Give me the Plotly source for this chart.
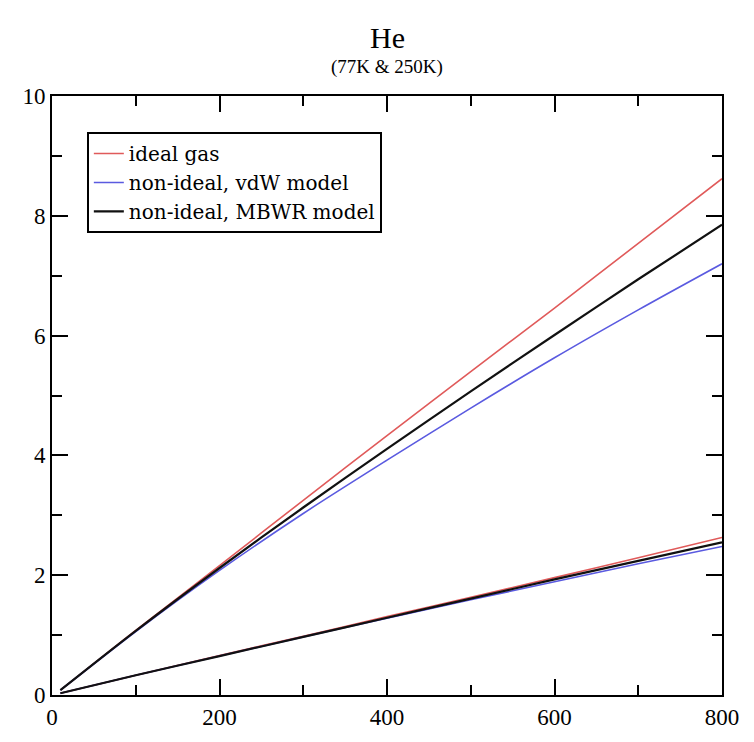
import plotly.graph_objects as go

# pressure-like x values
x_vals = [10, 100, 200, 300, 400, 500, 600, 700, 800]

# upper group (77K)
ideal_77 = [0.08, 1.08, 2.16, 3.25, 4.33, 5.40, 6.46, 7.54, 8.62]
vdw_77 = [0.08, 1.06, 2.08, 3.03, 3.92, 4.79, 5.63, 6.43, 7.20]
mbwr_77 = [0.08, 1.07, 2.12, 3.13, 4.11, 5.07, 6.01, 6.94, 7.85]

# lower group (250K)
ideal_250 = [0.03, 0.33, 0.66, 0.98, 1.31, 1.63, 1.96, 2.29, 2.63]
vdw_250 = [0.03, 0.33, 0.65, 0.97, 1.28, 1.59, 1.89, 2.19, 2.48]
mbwr_250 = [0.03, 0.33, 0.65, 0.97, 1.29, 1.61, 1.93, 2.24, 2.55]

names = ["ideal gas", "non-ideal, vdW model", "non-ideal, MBWR model"]
colors = ["#e05a5a", "#5a5ae0", "#111111"]
widths = [1.6, 1.6, 2.2]

series = [(ideal_77, ideal_250), (vdw_77, vdw_250), (mbwr_77, mbwr_250)]

FONT = "Liberation Serif"

fig = go.Figure()
for (y77, y250), name, c, w in zip(series, names, colors, widths):
    fig.add_trace(go.Scatter(x=x_vals, y=y77, mode="lines", name=name,
                             line=dict(color=c, width=w, shape="spline",
                                       smoothing=0.8),
                             legendgroup=name))
    fig.add_trace(go.Scatter(x=x_vals, y=y250, mode="lines", name=name,
                             line=dict(color=c, width=w, shape="spline",
                                       smoothing=0.8),
                             legendgroup=name, showlegend=False))

axis_common = dict(
    showline=True, linecolor="black", linewidth=2, mirror="allticks",
    ticks="inside", ticklen=16, tickwidth=2, tickcolor="black",
    showgrid=False, zeroline=False,
    tickfont=dict(family=FONT, size=23, color="black"),
)

fig.update_xaxes(range=[0, 800], dtick=200, tick0=0,
                 minor=dict(ticks="inside", ticklen=10, tickwidth=2,
                            tickcolor="black", dtick=100, showgrid=False),
                 **axis_common)
fig.update_yaxes(range=[0, 10], dtick=2, tick0=0,
                 minor=dict(ticks="inside", ticklen=10, tickwidth=2,
                            tickcolor="black", dtick=1, showgrid=False),
                 **axis_common)

fig.update_layout(
    width=754, height=742,
    margin=dict(l=52, r=32, t=96, b=30),
    paper_bgcolor="white", plot_bgcolor="white",
    showlegend=True,
    legend=dict(x=0.052, y=0.94, xanchor="left", yanchor="top",
                bordercolor="black", borderwidth=2, bgcolor="white",
                font=dict(family="DejaVu Serif", size=20, color="black"),
                tracegroupgap=0, itemwidth=30),
    annotations=[
        dict(text="He", x=0.5, xref="paper", y=1.097, yref="paper",
             xanchor="center", yanchor="middle", showarrow=False,
             font=dict(family=FONT, size=30, color="black")),
        dict(text="(77K &amp; 250K)", x=0.5, xref="paper", y=1.0487,
             yref="paper", xanchor="center", yanchor="middle",
             showarrow=False,
             font=dict(family=FONT, size=19, color="black")),
    ],
)

fig.write_html("out.html")
